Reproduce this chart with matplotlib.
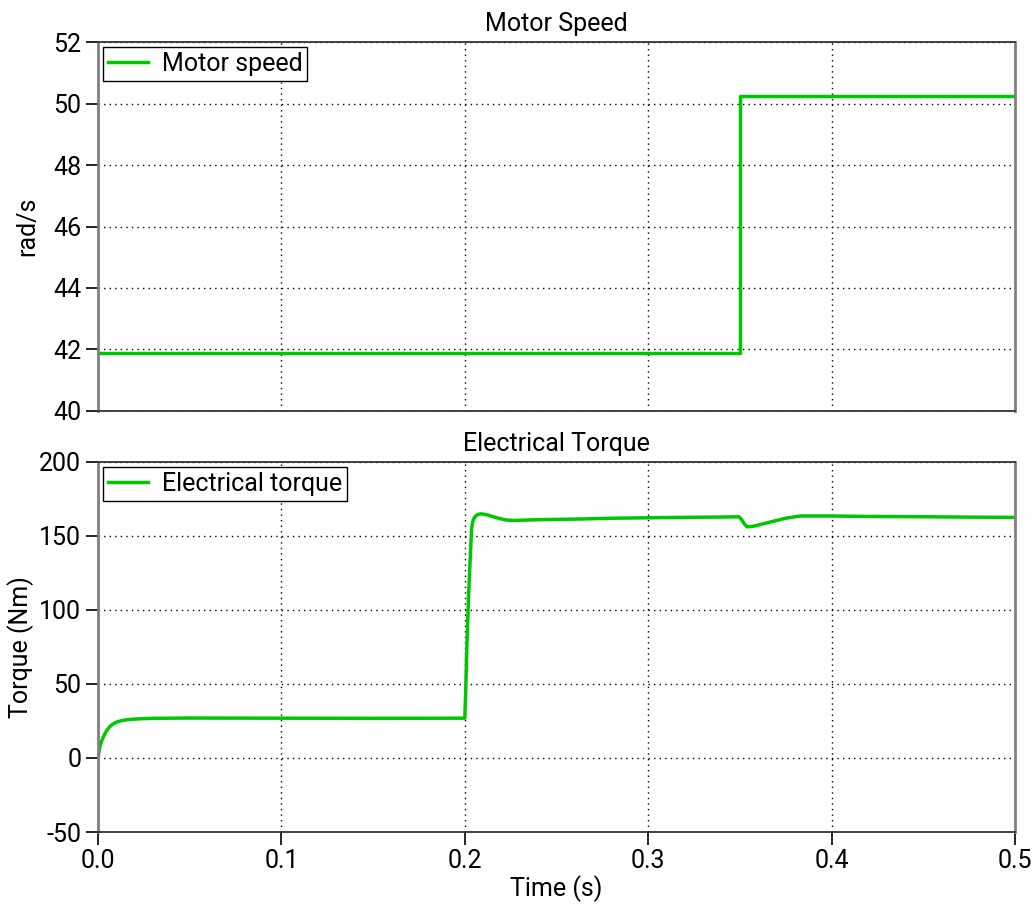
import matplotlib
matplotlib.use('Agg')
import matplotlib.pyplot as plt

# values
speed_t = [0.0, 0.35, 0.35, 0.5]
speed = [41.87, 41.87, 50.25, 50.25]

torque_t = [0, 0.0005, 0.001, 0.002, 0.003, 0.004, 0.005, 0.0065, 0.008, 0.010,
            0.013, 0.016, 0.02, 0.025, 0.03, 0.05, 0.1, 0.15, 0.2, 0.2005,
            0.201, 0.202, 0.203, 0.2037, 0.2045, 0.2055, 0.207, 0.209, 0.212, 0.216,
            0.22, 0.2228, 0.2264, 0.24, 0.2637, 0.28, 0.3, 0.32, 0.34, 0.3495,
            0.351, 0.3525, 0.354, 0.357, 0.3646, 0.37, 0.375, 0.3828, 0.4, 0.42,
            0.45, 0.48, 0.5]
torque = [0, 4, 7.4, 11.5, 14.5, 17, 19, 21.3, 22.8, 24.2,
          25.3, 25.9, 26.3, 26.6, 26.8, 27, 26.9, 26.8, 26.9, 45,
          70, 108, 136, 155, 160.5, 163, 164.5, 165, 164.3, 162.8,
          161.5, 160.8, 160.5, 161, 161.5, 162, 162.3, 162.6, 162.8, 163,
          161, 158, 156.2, 156.5, 158.8, 160.5, 162, 163.5, 163.5, 163.2,
          163, 162.7, 162.6]

x_ticks = [0.0, 0.1, 0.2, 0.3, 0.4, 0.5]
x_labels = ['0.0', '0.1', '0.2', '0.3', '0.4', '0.5']
speed_ticks = [40, 42, 44, 46, 48, 50, 52]
torque_ticks = [-50, 0, 50, 100, 150, 200]

plt.rcParams['font.family'] = ['Roboto', 'DejaVu Sans']
plt.rcParams['axes.unicode_minus'] = False
green = '#00c800'
fs = 18

fig = plt.figure(figsize=(10.36, 9.08), dpi=100)
ax1 = fig.add_axes([0.0946, 0.5474, 0.8851, 0.4063])
ax2 = fig.add_axes([0.0946, 0.0837, 0.8851, 0.4075])


def style(ax):
    ax.grid(True, color='black', linestyle=(0, (1, 3)), linewidth=1)
    for s in ['left', 'right']:
        ax.spines[s].set_color('#808080')
        ax.spines[s].set_linewidth(2)
    for s in ['top', 'bottom']:
        ax.spines[s].set_color('#333333')
        ax.spines[s].set_linewidth(1.3)
    ax.tick_params(axis='both', direction='out', length=9, width=1.2, labelsize=fs, pad=3)
    ax.set_xlim(0, 0.5)
    ax.set_xticks(x_ticks)


def add_legend(ax):
    leg = ax.legend(loc='upper left', fontsize=fs, fancybox=False, edgecolor='black',
                    framealpha=1, borderaxespad=0.2, borderpad=0.2, handlelength=1.6,
                    handletextpad=0.55)
    leg.get_frame().set_linewidth(1)


ax1.plot(speed_t, speed, color=green, lw=2.5, label='Motor speed')
style(ax1)
ax1.set_ylim(40, 52)
ax1.set_yticks(speed_ticks)
ax1.tick_params(axis='x', length=0, labelbottom=False)
ax1.set_ylabel('rad/s', fontsize=fs, labelpad=10)
ax1.set_title('Motor Speed', fontsize=fs, pad=8)
add_legend(ax1)

ax2.plot(torque_t, torque, color=green, lw=2.5, label='Electrical torque')
style(ax2)
ax2.set_ylim(-50, 200)
ax2.set_yticks(torque_ticks)
ax2.set_xticklabels(x_labels)
ax2.set_ylabel('Torque (Nm)', fontsize=fs, labelpad=4)
ax2.set_xlabel('Time (s)', fontsize=fs, labelpad=2)
ax2.set_title('Electrical Torque', fontsize=fs, pad=8)
add_legend(ax2)

fig.savefig('out.png', dpi=100)
